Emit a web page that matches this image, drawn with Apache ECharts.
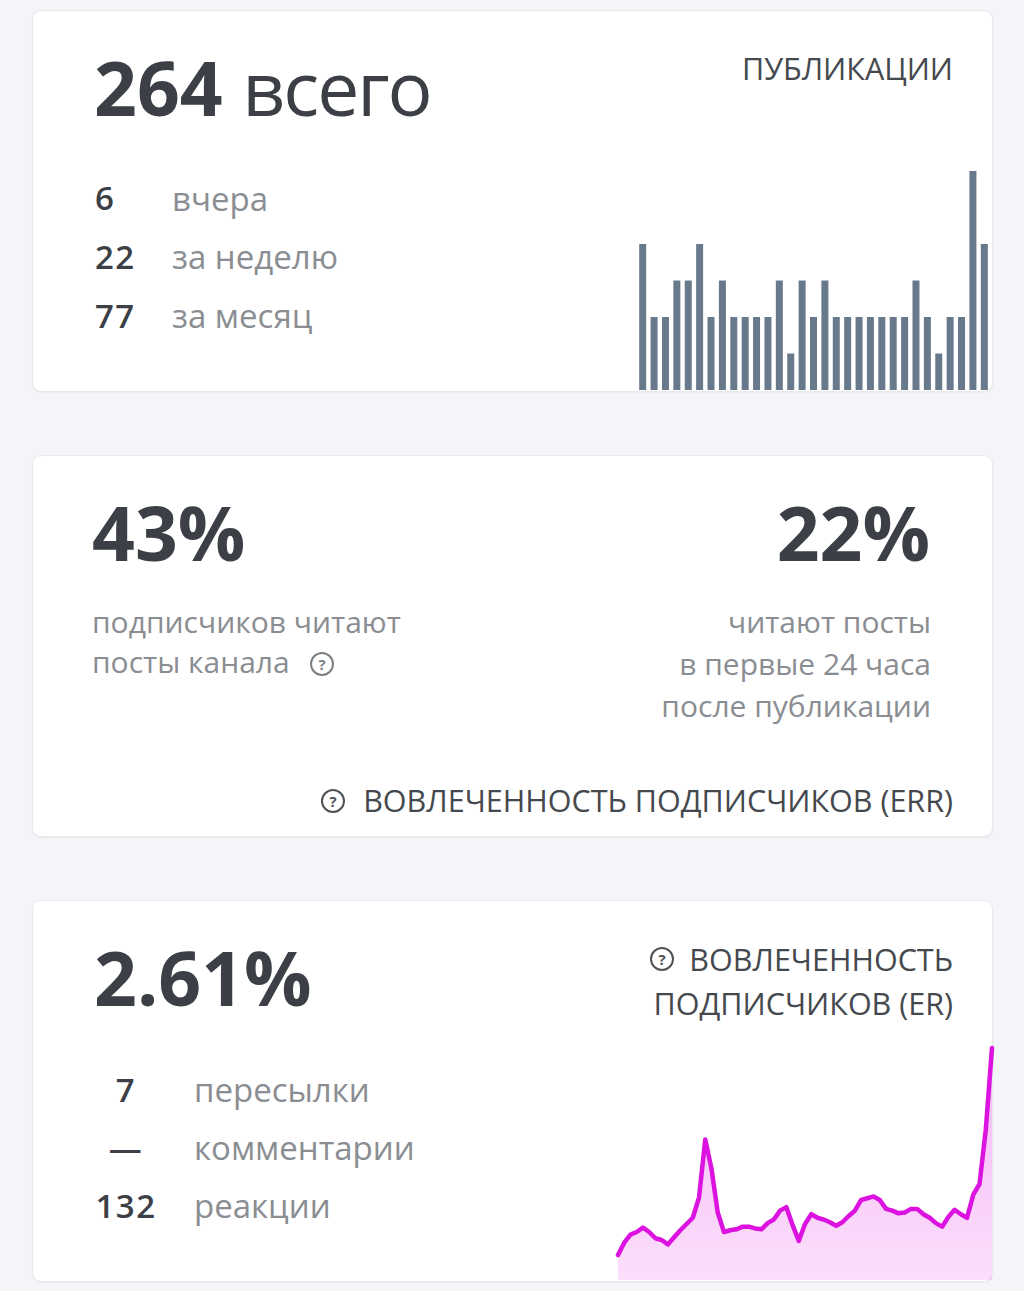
<!DOCTYPE html>
<html>
<head>
<meta charset="utf-8">
<script src="https://cdn.jsdelivr.net/npm/echarts@6/dist/echarts.min.js"></script>
<style>
  html, body { margin:0; padding:0; }
  body { width:1024px; height:1291px; background:#f3f5f8; position:relative; overflow:hidden;
         font-family:"Open Sans","Noto Sans",sans-serif; }
  .card { position:absolute; left:32px; width:959px; height:380px; background:#fff;
          border:1px solid #e7e9ed; border-radius:9px; box-shadow:0 1px 2px rgba(0,0,0,0.05); }
  .t { position:absolute; white-space:nowrap; line-height:1.3; }
  .big { font-size:75px; font-weight:700; color:#3c4046; }
  .num { font-size:33px; font-weight:600; color:#3c4046; letter-spacing:1.5px; }
  .lbl { font-size:33px; font-weight:400; color:#8a8d91; }
  .sub { font-size:30px; font-weight:400; color:#8a8d91; }
  .cap { font-size:30.5px; font-weight:400; color:#45494e; }
  .ic { position:absolute; width:20px; height:20px; border:2px solid #4f5257; border-radius:50%;
        font-size:15px; font-weight:700; color:#4f5257; text-align:center; line-height:20px; }
  #bars { position:absolute; left:637px; top:166px; width:353px; height:224px; }
  #er { position:absolute; left:610px; top:1040px; width:390px; height:240px; }
</style>
</head>
<body>
<div class="card" style="top:10px"></div>
<div class="card" style="top:455px"></div>
<div class="card" style="top:900px"></div>

<!-- card 1 -->
<div class="t big" data-b="116" style="left:94px">264 <span style="font-weight:400;letter-spacing:-2px">всего</span></div>
<div class="t cap" data-b="80" style="right:71px">ПУБЛИКАЦИИ</div>
<div class="t num" data-b="210" style="left:95px">6</div>
<div class="t num" data-b="269" style="left:95px">22</div>
<div class="t num" data-b="328" style="left:95px">77</div>
<div class="t lbl" data-b="211" style="left:172px">вчера</div>
<div class="t lbl" data-b="269" style="left:172px">за неделю</div>
<div class="t lbl" data-b="328" style="left:172px">за месяц</div>

<!-- card 2 -->
<div class="t big" data-b="561" style="left:92px">43%</div>
<div class="t sub" data-b="633" style="left:92px">подписчиков читают</div>
<div class="t sub" data-b="673" style="left:92px">посты канала</div>
<div class="ic" style="left:310px;top:652px;border-color:#7c7f83;color:#7c7f83">?</div>
<div class="t big" data-b="561" style="right:94px">22%</div>
<div class="t sub" data-b="633" style="right:93px">читают посты</div>
<div class="t sub" data-b="675" style="right:93px">в первые 24 часа</div>
<div class="t sub" data-b="717" style="right:93px">после публикации</div>
<div class="ic" style="left:321px;top:789px">?</div>
<div class="t cap" data-b="812" style="right:71px">ВОВЛЕЧЕННОСТЬ ПОДПИСЧИКОВ (ERR)</div>

<!-- card 3 -->
<div class="t big" data-b="1006" style="left:94px">2.61%</div>
<div class="ic" style="left:650px;top:947px">?</div>
<div class="t cap" data-b="971" style="right:71px">ВОВЛЕЧЕННОСТЬ</div>
<div class="t cap" data-b="1015" style="right:71px">ПОДПИСЧИКОВ (ER)</div>
<div class="t num" data-b="1102" style="left:76px;width:100px;text-align:center">7</div>
<div class="t num" data-b="1160" style="left:76px;width:100px;text-align:center">—</div>
<div class="t num" data-b="1218" style="left:76px;width:100px;text-align:center">132</div>
<div class="t lbl" data-b="1102" style="left:194px">пересылки</div>
<div class="t lbl" data-b="1160" style="left:194px">комментарии</div>
<div class="t lbl" data-b="1218" style="left:194px">реакции</div>

<div id="bars"></div>
<div id="er"></div>

<script>
// ---- data ----
const pubDays = ['1','2','3','4','5','6','7','8','9','10','11','12','13','14','15','16',
  '17','18','19','20','21','22','23','24','25','26','27','28','29','30','31'];
const pubCounts = [4,2,2,3,3,4,2,3,2,2,2,2,3,1,3,2,3,2,2,2,2,2,2,2,3,2,1,2,2,6,4];

const erDays = ['1','2','3','4','5','6','7','8','9','10','11','12','13','14','15','16','17','18','19','20',
  '21','22','23','24','25','26','27','28','29','30','31','32','33','34','35','36','37','38','39','40',
  '41','42','43','44','45','46','47','48','49','50','51','52','53','54','55','56','57','58','59','60','61'];
const erValues = [0.28,0.42,0.51,0.54,0.59,0.54,0.47,0.45,0.40,0.48,0.56,0.63,0.70,0.93,1.58,1.25,
  0.76,0.54,0.56,0.57,0.60,0.60,0.58,0.57,0.64,0.68,0.78,0.82,0.62,0.44,0.63,0.74,0.70,0.68,0.65,
  0.61,0.65,0.72,0.78,0.90,0.92,0.94,0.90,0.80,0.78,0.75,0.76,0.80,0.80,0.74,0.70,0.64,0.60,0.71,
  0.79,0.74,0.70,0.96,1.08,1.69,2.61];

// ---- baseline placement of text ----
document.querySelectorAll('.t').forEach(el => {
  const m = document.createElement('span');
  m.style.cssText = 'display:inline-block;width:0;height:0;vertical-align:baseline';
  el.appendChild(m);
  el.style.top = '0px';
  const off = m.getBoundingClientRect().top - el.getBoundingClientRect().top;
  el.style.top = (parseFloat(el.dataset.b) - off) + 'px';
});

// ---- bar chart ----
const barChart = echarts.init(document.getElementById('bars'), null, {renderer:'svg'});
barChart.setOption({
  animation:false,
  grid:{left:0,right:0,top:5,bottom:0},
  xAxis:{type:'category', data:pubDays, show:false},
  yAxis:{type:'value', min:0, max:6, show:false},
  series:[{type:'bar', data:pubCounts, barWidth:7, itemStyle:{color:'#68798b'}}]
});

// ---- ER line chart ----
const erChart = echarts.init(document.getElementById('er'), null, {renderer:'svg'});
erChart.setOption({
  animation:false,
  grid:{left:8,right:8,top:8,bottom:0},
  xAxis:{type:'category', data:erDays, boundaryGap:false, show:false},
  yAxis:{type:'value', min:0, max:2.61, show:false},
  series:[{type:'line', data:erValues, symbol:'none', smooth:false, clip:false,
    lineStyle:{color:'#db12e0', width:4.5, cap:'round', join:'round'},
    areaStyle:{opacity:1, color:new echarts.graphic.LinearGradient(0,0,0,1,[
      {offset:0,color:'rgba(228,40,228,0.34)'},{offset:1,color:'rgba(228,40,228,0.15)'}])}}]
});
</script>
</body>
</html>
